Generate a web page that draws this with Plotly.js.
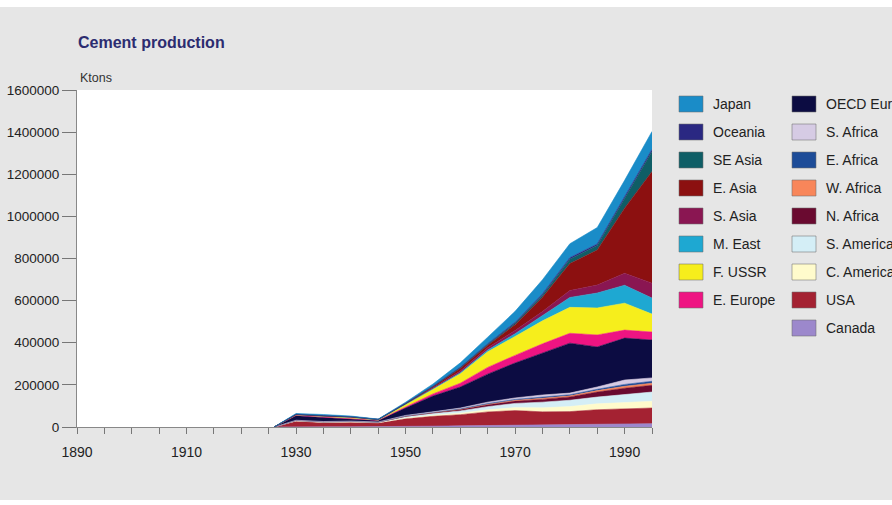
<!DOCTYPE html>
<html>
<head>
<meta charset="utf-8">
<script src="https://cdn.plot.ly/plotly-3.0.1.min.js"></script>
<style>
  html, body { margin: 0; padding: 0; background: #ffffff; overflow: hidden; }
  #chart { position: absolute; left: 0; top: 7px; width: 892px; height: 493px; }
</style>
</head>
<body>
<div id="chart"></div>
<script>
// ---- data (Ktons) ----
const years = [1926, 1930, 1935, 1940, 1945, 1950, 1955, 1960, 1965, 1970, 1975, 1980, 1985, 1990, 1995];

const canada     = [0, 1800, 800, 1200, 1000, 2500, 4000, 5500, 7500, 8000, 10000, 11000, 12000, 16000, 16000];
const usa        = [0, 26000, 20000, 21000, 18000, 37000, 47000, 53000, 64000, 70000, 62000, 62000, 70000, 70000, 74000];
const cAmerica   = [0, 1000, 700, 1000, 1200, 3000, 5000, 7000, 10000, 14000, 19000, 24000, 28000, 30000, 32000];
const sAmerica   = [0, 1600, 2000, 2500, 2000, 6000, 8000, 11000, 15000, 20000, 27000, 30000, 32000, 38000, 44000];
const nAfrica    = [0, 900, 900, 800, 600, 2500, 3500, 6000, 9000, 11000, 13000, 16000, 24000, 30000, 32000];
const wAfrica    = [0, 100, 100, 100, 100, 500, 800, 1800, 3000, 4000, 6000, 5000, 7000, 9000, 10000];
const eAfrica    = [0, 200, 200, 300, 300, 1000, 1200, 2000, 3000, 4000, 5000, 5000, 6000, 9000, 9000];
const sAfrica    = [0, 400, 1300, 1100, 800, 2500, 2500, 3700, 6500, 7000, 10000, 8000, 11000, 21000, 16000];
const oecdEurope = [0, 22000, 19000, 11000, 7000, 35000, 75000, 100000, 133000, 166000, 200000, 237000, 190000, 199000, 180000];
const eEurope    = [0, 2000, 2000, 2000, 700, 5000, 10000, 18000, 32000, 36000, 43000, 47000, 57000, 38000, 38000];
const fUSSR      = [0, 2500, 4000, 4500, 1800, 10000, 22000, 45000, 74000, 90000, 109000, 123000, 128000, 128000, 85000];
const mEast      = [0, 100, 200, 300, 400, 1500, 2500, 4500, 8000, 13000, 24000, 47000, 71000, 85000, 76000];
const sAsia      = [0, 600, 1000, 1500, 1800, 3000, 4500, 8000, 11000, 15000, 20000, 33000, 38000, 57000, 71000];
const eAsia      = [0, 800, 1200, 1000, 300, 1500, 5000, 14000, 12000, 28000, 68000, 128000, 166000, 309000, 530000];
const seAsia     = [0, 200, 300, 300, 100, 500, 1000, 2000, 3500, 6000, 10000, 20000, 22000, 48000, 95000];
const oceania    = [0, 500, 500, 500, 500, 1500, 2000, 3000, 4000, 5000, 6000, 8000, 7000, 9000, 10000];
const japan      = [0, 3500, 5000, 3000, 800, 4500, 10000, 20000, 31000, 52000, 67000, 66000, 78000, 75000, 85000];

// stacking order, bottom to top
const regionNames  = ["Canada", "USA", "C. America", "S. America", "N. Africa", "W. Africa", "E. Africa", "S. Africa",
                      "OECD Europe", "E. Europe", "F. USSR", "M. East", "S. Asia", "E. Asia", "SE Asia", "Oceania", "Japan"];
const regionValues = [canada, usa, cAmerica, sAmerica, nAfrica, wAfrica, eAfrica, sAfrica,
                      oecdEurope, eEurope, fUSSR, mEast, sAsia, eAsia, seAsia, oceania, japan];
const regionColors = ["#9c88cc", "#a42232", "#fffbcc", "#d4eef6", "#6a0a30", "#f8865a", "#1d4c98", "#d6cbe4",
                      "#0c0c42", "#ee1482", "#f6ee1c", "#1ea8d2", "#8a1652", "#8c1010", "#0f5e66", "#2a2882", "#1a8cc8"];

// legend columns (as in the reference)
const legendCol1 = ["Japan", "Oceania", "SE Asia", "E. Asia", "S. Asia", "M. East", "F. USSR", "E. Europe"];
const legendCol2 = ["OECD Europe", "S. Africa", "E. Africa", "W. Africa", "N. Africa", "S. America", "C. America", "USA", "Canada"];

const xTickStart = 1890, xRange = [1890, 1995], yRange = [0, 1600000];

// ---- traces ----
const traces = regionNames.map((name, i) => ({
  type: "scatter",
  mode: "lines",
  name: name,
  x: years,
  y: regionValues[i],
  stackgroup: "world",
  fillcolor: regionColors[i],
  line: { color: regionColors[i], width: 0.6 },
  hoverinfo: "skip",
  showlegend: false
}));

// ---- layout geometry (page pixels) ----
const divTop = 7;
const plotL = 77, plotR = 652, plotT = 90, plotB = 427;
const px2x = px => (px - plotL) / (plotR - plotL);
const py2y = py => (plotB - py) / (plotB - plotT);

const shapes = [];
const annotations = [];
const colorOf = n => regionColors[regionNames.indexOf(n)];

function addLegendColumn(list, swatchX, textX) {
  list.forEach((n, r) => {
    const cy = 104 + r * 28;
    shapes.push({
      type: "rect", xref: "paper", yref: "paper", layer: "above",
      x0: px2x(swatchX), x1: px2x(swatchX + 24),
      y0: py2y(cy + 8), y1: py2y(cy - 8),
      fillcolor: colorOf(n),
      line: { color: "rgba(110,110,110,0.55)", width: 1 }
    });
    annotations.push({
      xref: "paper", yref: "paper", x: px2x(textX), y: py2y(cy),
      xanchor: "left", yanchor: "middle", showarrow: false,
      text: n, font: { family: "Liberation Sans, Arial, sans-serif", size: 14, color: "#222222" }
    });
  });
}
addLegendColumn(legendCol1, 679, 711);
addLegendColumn(legendCol2, 792, 824);

annotations.push({
  xref: "paper", yref: "paper", x: px2x(78), y: py2y(78),
  xanchor: "left", yanchor: "middle", showarrow: false,
  text: "Ktons", font: { family: "Liberation Sans, Arial, sans-serif", size: 12.5, color: "#333333" }
});

const H = 493;
const layout = {
  width: 892, height: H,
  paper_bgcolor: "#e6e6e6",
  plot_bgcolor: "#ffffff",
  margin: { l: plotL, r: 892 - plotR, t: plotT - divTop, b: (divTop + H) - plotB, autoexpand: false },
  showlegend: false,
  title: {
    text: "<b>Cement production</b>",
    xref: "container", x: 78 / 892, xanchor: "left",
    yref: "container", y: 1 - (42 - divTop) / H, yanchor: "middle",
    font: { family: "Liberation Sans, Arial, sans-serif", size: 16, color: "#2c2c70" }
  },
  xaxis: {
    range: xRange, tick0: xTickStart, dtick: 20, tickmode: "linear",
    ticks: "outside", ticklen: 6, tickcolor: "#777777", tickwidth: 1,
    minor: { dtick: 5, tick0: xTickStart, ticks: "outside", ticklen: 6, tickcolor: "#777777", showgrid: false },
    showline: true, linecolor: "#888888", linewidth: 1,
    showgrid: false, zeroline: false, ticklabelstandoff: 6,
    tickfont: { family: "Liberation Sans, Arial, sans-serif", size: 14, color: "#222222" },
    fixedrange: true
  },
  yaxis: {
    range: yRange, dtick: 200000, tickmode: "linear", tickformat: "d",
    ticks: "outside", ticklen: 14, tickcolor: "#777777", tickwidth: 1,
    showline: true, linecolor: "#888888", linewidth: 1,
    showgrid: false, zeroline: false,
    tickfont: { family: "Liberation Sans, Arial, sans-serif", size: 13.5, color: "#222222" },
    fixedrange: true
  },
  shapes: shapes,
  annotations: annotations
};

Plotly.newPlot("chart", traces, layout, { staticPlot: true, displayModeBar: false });
</script>
</body>
</html>
